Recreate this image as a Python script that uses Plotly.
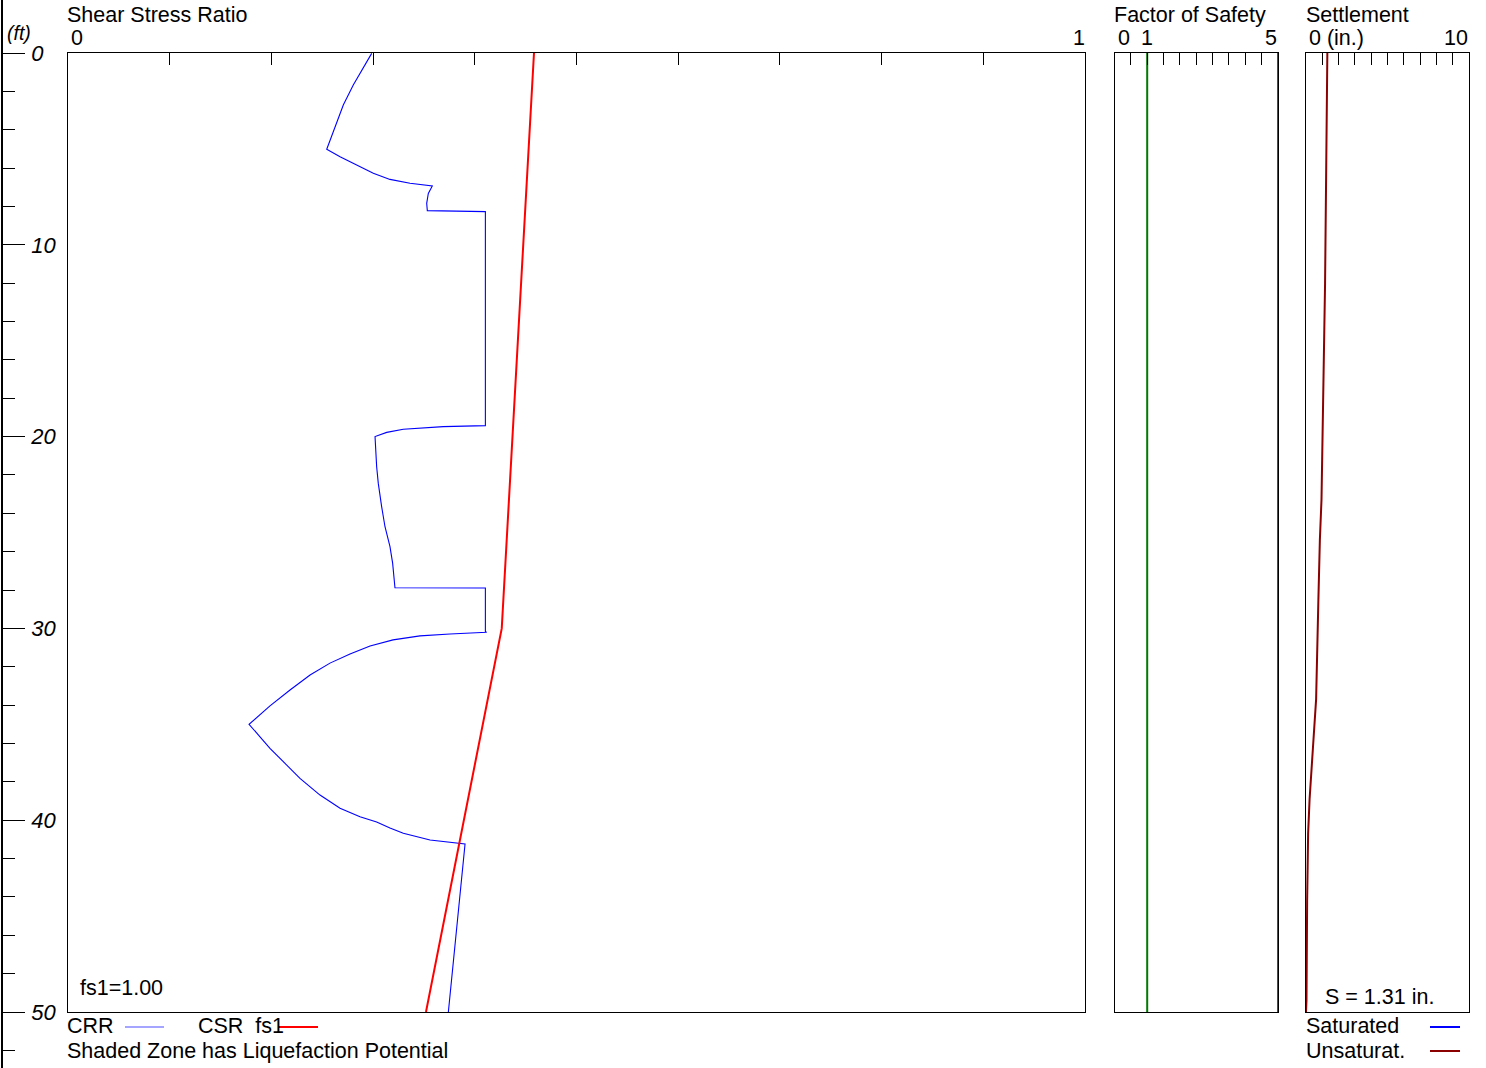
import plotly.graph_objects as go

W, H = 1486, 1068
FONT = "Arial, 'Liberation Sans', sans-serif"

# ---------------- data ----------------
crr_depth = [0.02, 0.80, 1.67, 2.71, 3.84, 5.02,
             5.41, 5.84, 6.27, 6.59, 6.79, 6.93,
             7.32, 7.84, 8.22, 8.27,
             19.43, 19.48, 19.55, 19.62, 19.78, 20.0,
             21.57, 22.44, 23.65, 24.7, 25.74, 26.6, 27.88, 27.89,
             30.17, 30.2, 30.29, 30.39, 30.6, 30.92, 31.34, 31.81, 32.43, 33.21, 34.04, 35.0,
             35.65, 36.25, 36.95, 37.82, 38.69, 39.38, 39.82, 40.03,
             40.09, 40.41, 40.68, 41.03, 41.16, 41.24, 50.0]
crr_value = [0.2986, 0.2903, 0.2805, 0.2707, 0.2625, 0.2544,
             0.2675, 0.2838, 0.3002, 0.3166, 0.3363, 0.3582,
             0.3543, 0.3527, 0.3533, 0.4104,
             0.4104, 0.369, 0.3494, 0.3297, 0.3134, 0.3019,
             0.3035, 0.3051, 0.3084, 0.3117, 0.3166, 0.3192, 0.3215, 0.4104,
             0.4104, 0.4117, 0.3756, 0.3461, 0.3196, 0.2970, 0.2773, 0.2576, 0.2380, 0.2183, 0.1986, 0.178,
             0.1888, 0.1986, 0.2117, 0.2281, 0.2478, 0.2675, 0.2871, 0.3019,
             0.3035, 0.3166, 0.3297, 0.356, 0.3756, 0.3904, 0.374]

csr_depth = [0.0, 30.0, 50.0]
csr_value = [0.4582, 0.4265, 0.352]

fs_depth = [0.0, 50.0]
fs_value = [5.0, 5.0]
fs_reference = [1.0, 1.0]

settle_depth = [0.0, 12.0, 23.3, 25.4, 28.5, 33.7, 36.3, 38.9, 40.7, 44.2, 49.4, 50.0]
settle_value = [1.31, 1.17, 0.95, 0.85, 0.76, 0.62, 0.42, 0.22, 0.13, 0.07, 0.03, 0.0]

ssr_ticks = [0.1, 0.2, 0.3, 0.4, 0.5, 0.6, 0.7, 0.8, 0.9]
fs_ticks = [0.5, 1.0, 1.5, 2.0, 2.5, 3.0, 3.5, 4.0, 4.5]
settle_ticks = [1, 2, 3, 4, 5, 6, 7, 8, 9]
depth_major = [0, 10, 20, 30, 40, 50]
depth_minor = [2, 4, 6, 8, 12, 14, 16, 18, 22, 24, 26, 28, 32, 34, 36, 38,
               42, 44, 46, 48, 52]

# ---------------- layout helpers (pixel -> paper) ----------------
def px(x):
    return x / W

def py(y):
    return 1 - y / H

TOP, BOT = 53, 1012
ppf = (BOT - TOP) / 50.0  # pixels per foot
depth_axis_range = [(H - TOP) / ppf, -TOP / ppf]

fig = go.Figure()

fig.add_trace(go.Scatter(x=crr_value, y=crr_depth, xaxis="x", yaxis="y", mode="lines",
                         line=dict(color="#0000ff", width=1.1), showlegend=False))
fig.add_trace(go.Scatter(x=csr_value, y=csr_depth, xaxis="x", yaxis="y", mode="lines",
                         line=dict(color="#ff0000", width=2), showlegend=False))
fig.add_trace(go.Scatter(x=fs_reference, y=fs_depth, xaxis="x2", yaxis="y3", mode="lines",
                         line=dict(color="#007a00", width=2), showlegend=False))
fig.add_trace(go.Scatter(x=fs_value, y=fs_depth, xaxis="x2", yaxis="y3", mode="lines",
                         line=dict(color="#ff0000", width=2), showlegend=False, cliponaxis=False))
fig.add_trace(go.Scatter(x=settle_value, y=settle_depth, xaxis="x3", yaxis="y4", mode="lines",
                         line=dict(color="#8b0000", width=2), showlegend=False))
fig.add_trace(go.Scatter(x=[None], y=[None], xaxis="x4", yaxis="y2", showlegend=False))

frame = dict(showline=True, mirror=True, linecolor="black", linewidth=1,
             showgrid=False, zeroline=False)
ydom = [py(BOT), py(TOP)]

def xaxis(dom, rng, ticks, anchor):
    return dict(domain=dom, range=rng, side="top", anchor=anchor, ticks="inside",
                ticklen=12, tickcolor="black", tickwidth=1, tickvals=ticks,
                showticklabels=False, **frame)

def yaxis(anchor):
    return dict(domain=ydom, range=[50, 0], anchor=anchor, showticklabels=False,
                ticks="", **frame)

fig.update_layout(
    width=W, height=H, margin=dict(l=0, r=0, t=0, b=0),
    paper_bgcolor="white", plot_bgcolor="white",
    font=dict(family=FONT, size=21.5, color="black"),
    xaxis=xaxis([px(68), px(1085)], [0, 1], ssr_ticks, "y"),
    xaxis2=xaxis([px(1114.5), px(1278)], [0, 5], fs_ticks, "y3"),
    xaxis3=xaxis([px(1306), px(1469)], [0, 10], settle_ticks, "y4"),
    xaxis4=dict(domain=[0, 0.001], visible=False, anchor="y2"),
    yaxis=yaxis("x"),
    yaxis3=yaxis("x2"),
    yaxis4=yaxis("x3"),
    yaxis2=dict(domain=[0, 1], range=depth_axis_range, anchor="free", position=px(2),
                side="left", showline=True, linecolor="black", linewidth=1.5,
                showgrid=False, zeroline=False,
                ticks="inside", ticklen=22, tickcolor="black", tickwidth=1,
                tickvals=depth_major, ticktext=[str(v) for v in depth_major],
                ticklabelposition="inside", ticklabelstandoff=8,
                tickfont=dict(family=FONT, size=22, style="italic", color="black"),
                minor=dict(tickmode="array", tickvals=depth_minor, ticks="inside",
                           ticklen=12, tickcolor="black", tickwidth=1)),
)

def note(text, x, y, xanchor="left", size=21.5, italic=False, xref="paper", xshift=0):
    fig.add_annotation(text=text, x=x, y=y, xref=xref, yref="paper",
                       xanchor=xanchor, yanchor="middle", showarrow=False,
                       borderpad=0, borderwidth=0, xshift=xshift,
                       font=dict(family=FONT, size=size, color="black",
                                 style="italic" if italic else "normal"))

# titles
note("Shear Stress Ratio", px(67), py(15))
note("Factor of Safety", px(1114), py(15))
note("Settlement", px(1306), py(15))
# scale labels
note("0", 0, py(37.5), "left", xref="x", xshift=3)
note("1", 1, py(37.5), "right", xref="x", xshift=0)
note("0", 0, py(37.5), "left", xref="x2", xshift=3)
note("1", 1, py(37.5), "center", xref="x2")
note("5", 5, py(37.5), "right", xref="x2", xshift=-1)
note("0 (in.)", 0, py(37.5), "left", xref="x3", xshift=3)
note("10", 10, py(37.5), "right", xref="x3", xshift=-1)
note("(ft)", px(7), py(33), "left", size=19.5, italic=True)
# in-panel notes
note("fs1=1.00", px(80), py(988))
note("S = 1.31 in.", px(1325), py(997))
# legends
note("CRR", px(67), py(1026))
note("CSR  fs1", px(198), py(1026))
note("Shaded Zone has Liquefaction Potential", px(67), py(1051))
note("Saturated", px(1306), py(1026))
note("Unsaturat.", px(1306), py(1051))

swatches = [(125, 164, 1027, "#4d4dff", 1.2), (278, 318, 1027, "#ff0000", 2),
            (1430, 1460, 1027, "#0000ff", 2), (1430, 1460, 1051, "#8b0000", 2)]
for x0, x1, yy, c, w in swatches:
    fig.add_shape(type="line", xref="paper", yref="paper", x0=px(x0), x1=px(x1),
                  y0=py(yy), y1=py(yy), line=dict(color=c, width=w))

fig.write_html("out.html", config={"displayModeBar": False},
               post_script="document.body.style.margin='0';")
